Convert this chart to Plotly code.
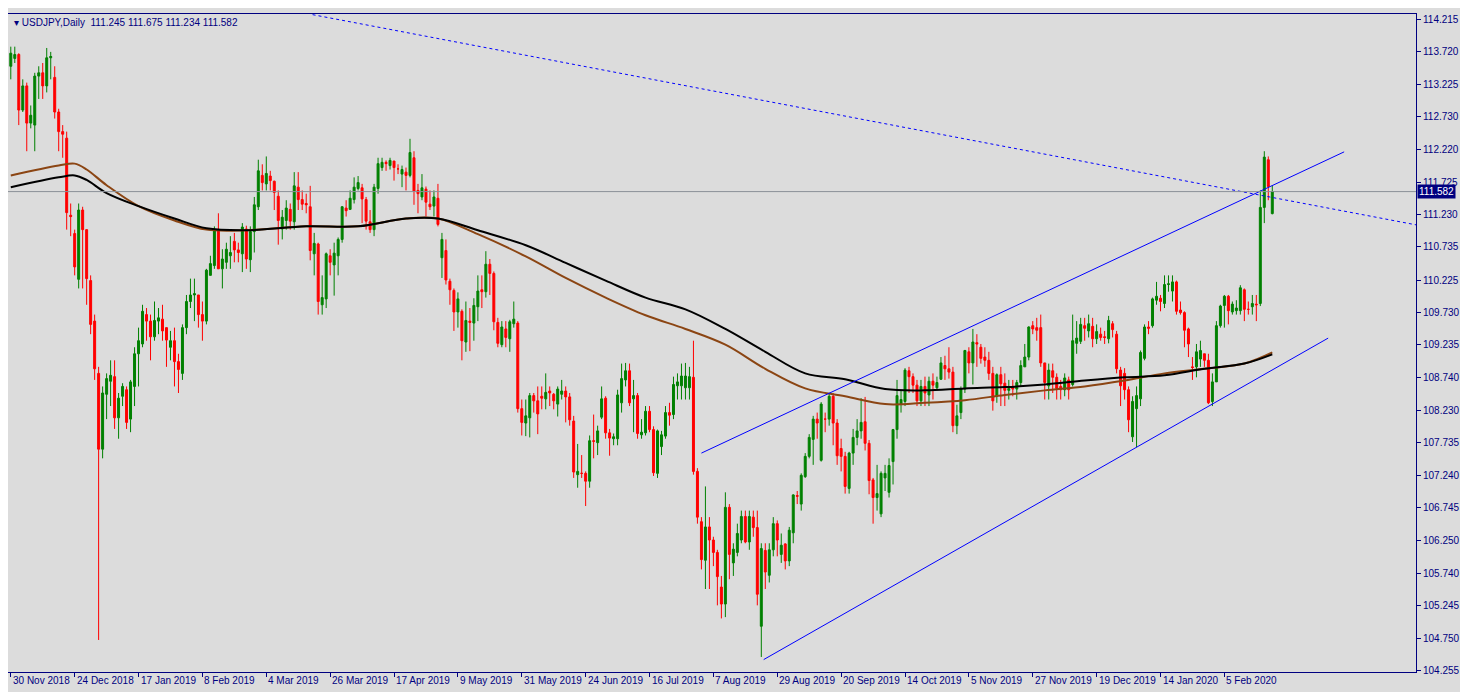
import plotly.graph_objects as go

# USDJPY daily candles (oldest first)
opens = [113.50, 113.62, 113.68, 112.83, 113.20, 112.63, 112.60, 113.35, 113.40, 113.20,
         113.63, 113.33, 112.80, 112.50, 112.40, 111.22, 110.94, 110.24, 111.30, 111.00,
         110.22, 109.60, 108.80, 107.64, 108.48, 108.68, 108.75, 108.12, 108.45, 108.55,
         108.10, 108.60, 109.10, 109.25, 109.70, 109.60, 109.36, 109.60, 109.63, 109.50,
         109.20, 109.30, 108.98, 108.80, 109.50, 109.90, 110.00, 110.00, 109.70, 109.60,
         110.30, 110.45, 111.00, 110.40, 110.50, 110.60, 110.82, 110.69, 110.63, 111.01,
         110.54, 110.97, 111.35, 111.83, 111.70, 111.82, 111.74, 111.51, 111.01, 111.14,
         111.31, 111.12, 111.65, 111.46, 111.40, 111.35, 110.63, 110.78, 109.85, 109.94,
         110.60, 110.46, 110.60, 110.85, 111.33, 111.31, 111.46, 111.63, 111.64, 111.46,
         111.12, 111.00, 111.63, 111.95, 112.03, 111.98, 112.05, 111.93, 111.85, 111.88,
         111.83, 112.10, 111.60, 111.50, 111.62, 111.39, 111.36, 111.48, 110.57, 110.68,
         110.21, 110.07, 109.74, 109.75, 109.28, 109.60, 109.57, 109.82, 110.08, 110.05,
         110.47, 110.33, 109.58, 109.24, 109.48, 109.33, 109.56, 109.57, 108.26, 108.04,
         108.12, 108.46, 108.38, 108.45, 108.41, 108.53, 108.48, 108.33, 108.48, 108.53,
         108.44, 108.07, 107.25, 107.27, 107.27, 107.15, 107.77, 107.74, 108.13, 108.42,
         107.89, 107.80, 107.80, 108.35, 108.70, 108.84, 108.41, 108.46, 107.86, 107.89,
         108.22, 107.94, 107.27, 107.68, 107.84, 108.20, 108.17, 108.61, 108.61, 108.58,
         108.58, 108.74, 107.30, 106.53, 105.94, 106.45, 106.25, 106.06, 105.53, 105.27,
         106.75, 105.90, 106.06, 106.25, 106.61, 106.22, 106.60, 106.44, 104.93, 106.09,
         105.71, 106.10, 106.50, 106.03, 106.19, 105.93, 106.36, 106.93, 106.80, 107.22,
         107.53, 107.79, 108.10, 107.47, 108.10, 108.10, 108.45, 108.04, 107.65, 107.53,
         107.04, 107.58, 107.82, 107.92, 108.06, 107.73, 107.17, 106.90, 106.65, 107.20,
         106.98, 107.45, 107.94, 108.33, 108.37, 108.84, 108.75, 108.62, 108.38, 108.60,
         108.47, 108.68, 108.58, 108.71, 108.92, 108.87, 108.82, 108.00, 108.20, 108.56,
         109.13, 108.96, 109.27, 109.20, 109.05, 109.00, 108.80, 108.45, 108.78, 108.65,
         108.54, 108.60, 108.56, 108.66, 108.90, 109.05, 109.53, 109.50, 109.50, 108.96,
         108.61, 108.84, 108.74, 108.60, 108.55, 108.70, 108.63, 109.26, 109.29, 109.53,
         109.45, 109.52, 109.33, 109.40, 109.36, 109.33, 109.56, 109.40, 108.85, 108.80,
         108.55, 107.83, 108.26, 108.41, 109.03, 109.51, 109.53, 109.92, 109.95, 109.87,
         110.16, 110.06, 110.20, 109.77, 109.73, 109.48, 108.90, 108.90, 109.02, 109.10,
         109.00, 108.37, 108.67, 109.53, 109.84, 109.98, 109.74, 109.76, 109.76, 110.08,
         109.78, 109.82, 109.86, 109.87, 111.34, 112.07, 111.245]
highs = [113.80, 113.80, 113.70, 113.30, 113.25, 112.90, 113.40, 113.50, 113.55, 113.78,
         113.72, 113.50, 112.85, 112.60, 112.50, 111.40, 111.00, 111.40, 111.35, 111.00,
         110.30, 109.70, 108.90, 108.60, 108.80, 109.00, 109.00, 108.50, 108.65, 108.60,
         108.70, 109.20, 109.50, 109.85, 109.80, 109.70, 109.90, 109.80, 109.85, 109.50,
         109.45, 109.50, 109.10, 109.55, 110.00, 110.25, 110.25, 110.00, 109.90, 110.40,
         110.60, 111.05, 111.25, 110.70, 110.80, 110.90, 110.95, 110.80, 111.10, 111.06,
         111.05, 111.50, 112.07, 112.00, 112.12, 111.90, 111.75, 111.60, 111.30, 111.45,
         111.40, 111.88, 111.88, 111.60, 111.55, 111.67, 110.95, 110.80, 110.30, 110.65,
         110.70, 110.80, 110.88, 111.36, 111.45, 111.60, 111.80, 111.82, 111.70, 111.50,
         111.30, 111.70, 112.10, 112.10, 112.06, 112.10, 112.05, 112.00, 111.98, 111.95,
         112.39, 112.20, 111.70, 111.85, 111.66, 111.60, 111.60, 111.70, 110.95, 110.85,
         110.25, 110.10, 110.04, 109.78, 109.90, 109.80, 109.95, 110.30, 110.30, 110.67,
         110.55, 110.36, 109.65, 109.60, 109.60, 109.62, 109.90, 109.60, 108.40, 108.40,
         108.50, 108.50, 108.60, 108.60, 108.80, 108.60, 108.50, 108.60, 108.70, 108.60,
         108.50, 108.15, 107.72, 107.55, 107.30, 107.85, 108.17, 108.00, 108.60, 108.45,
         107.95, 107.88, 108.55, 108.95, 108.96, 108.95, 108.70, 108.50, 108.10, 108.30,
         108.30, 107.99, 107.94, 107.92, 108.30, 108.35, 108.75, 108.80, 108.95, 108.96,
         108.90, 109.30, 107.35, 106.60, 107.07, 106.60, 106.30, 106.10, 105.70, 106.98,
         106.80, 106.20, 106.50, 106.70, 106.70, 106.70, 106.70, 106.70, 106.20, 106.20,
         106.20, 106.60, 106.55, 106.35, 106.20, 106.45, 106.95, 107.00, 107.27, 107.58,
         107.87, 108.15, 108.20, 108.36, 108.20, 108.50, 108.50, 108.10, 107.80, 107.60,
         107.60, 107.95, 108.10, 108.42, 108.44, 107.78, 107.20, 107.40, 107.30, 107.40,
         107.50, 107.95, 108.70, 108.55, 108.88, 108.90, 108.80, 108.70, 108.70, 108.75,
         108.75, 108.80, 108.75, 109.05, 109.07, 109.20, 108.90, 108.32, 108.60, 109.16,
         109.20, 109.48, 109.40, 109.25, 109.20, 109.13, 108.90, 108.80, 108.90, 108.80,
         108.70, 108.70, 108.70, 109.00, 109.25, 109.52, 109.60, 109.65, 109.70, 108.96,
         108.95, 108.95, 108.80, 108.70, 108.80, 108.75, 109.70, 109.60, 109.65, 109.65,
         109.70, 109.65, 109.55, 109.50, 109.45, 109.68, 109.60, 109.45, 108.90, 108.88,
         108.60, 108.45, 108.60, 109.15, 109.55, 109.60, 109.96, 110.20, 110.00, 110.30,
         110.30, 110.30, 110.22, 109.90, 109.75, 109.50, 109.05, 109.25, 109.30, 109.10,
         109.10, 108.80, 109.60, 109.85, 110.00, 110.00, 109.90, 109.92, 110.15, 110.10,
         109.90, 110.00, 110.00, 111.60, 112.20, 112.12, 111.675]
lows = [113.30, 113.55, 112.60, 112.80, 112.20, 112.55, 112.20, 113.00, 113.00, 113.10,
        113.30, 112.70, 112.20, 112.10, 111.00, 110.90, 110.30, 110.10, 110.10, 109.85,
        109.40, 108.70, 104.72, 107.50, 108.10, 108.30, 107.95, 107.80, 108.30, 107.95,
        107.90, 108.30, 108.60, 109.20, 109.30, 109.00, 109.30, 109.40, 109.30, 108.90,
        109.00, 108.60, 108.50, 108.70, 109.40, 109.80, 109.60, 109.50, 109.30, 109.55,
        110.30, 110.40, 110.40, 110.10, 110.40, 110.40, 110.50, 110.50, 110.35, 110.40,
        110.35, 110.65, 111.30, 111.60, 111.60, 111.60, 111.30, 110.77, 110.85, 111.00,
        111.00, 111.00, 111.30, 111.30, 111.25, 110.53, 110.30, 109.70, 109.70, 109.80,
        110.30, 109.99, 110.30, 110.80, 111.20, 111.30, 111.40, 111.60, 111.10, 111.00,
        110.95, 110.90, 111.55, 111.90, 111.90, 111.92, 111.75, 111.85, 111.65, 111.60,
        111.80, 111.38, 111.25, 111.45, 111.20, 111.30, 111.20, 111.05, 110.26, 110.16,
        109.85, 109.45, 109.50, 109.00, 109.13, 109.14, 109.30, 109.60, 109.80, 109.96,
        110.00, 109.46, 109.20, 109.20, 109.20, 109.13, 109.50, 108.20, 107.85, 107.84,
        107.82, 108.20, 107.87, 108.25, 108.25, 108.30, 108.25, 108.14, 108.40, 108.05,
        108.00, 107.20, 107.05, 107.20, 106.77, 107.05, 107.50, 107.55, 108.10, 107.80,
        107.54, 107.70, 107.70, 108.20, 108.60, 108.30, 107.90, 107.80, 107.80, 107.85,
        107.90, 107.23, 107.20, 107.55, 107.80, 108.00, 108.10, 108.40, 108.40, 108.40,
        108.40, 107.25, 106.50, 105.80, 105.50, 105.50, 105.85, 105.25, 105.05, 105.07,
        105.65, 105.70, 106.00, 106.20, 106.20, 106.10, 106.30, 105.25, 104.46, 105.50,
        105.60, 106.00, 106.00, 105.90, 105.80, 105.85, 106.20, 106.80, 106.70, 107.20,
        107.50, 107.40, 107.80, 107.45, 107.90, 108.00, 107.70, 107.40, 107.30, 106.96,
        106.96, 107.40, 107.70, 107.80, 107.62, 106.95, 106.50, 106.70, 106.60, 107.00,
        106.90, 107.10, 107.80, 108.20, 108.30, 108.50, 108.50, 108.30, 108.30, 108.30,
        108.30, 108.40, 108.55, 108.70, 108.70, 108.72, 107.90, 107.87, 108.10, 108.50,
        108.80, 108.63, 108.90, 108.95, 108.90, 108.70, 108.23, 108.35, 108.30, 108.30,
        108.40, 108.45, 108.40, 108.60, 108.90, 109.00, 109.40, 109.30, 108.90, 108.40,
        108.40, 108.50, 108.40, 108.40, 108.45, 108.40, 108.60, 109.10, 109.25, 109.30,
        109.35, 109.20, 109.25, 109.30, 109.25, 109.26, 109.35, 108.80, 108.30, 108.40,
        107.90, 107.75, 107.67, 108.30, 109.00, 109.40, 109.50, 109.85, 109.75, 109.80,
        110.05, 109.90, 109.70, 109.70, 109.20, 109.05, 108.70, 108.74, 108.90, 108.90,
        108.33, 108.30, 108.90, 109.50, 109.50, 109.55, 109.70, 109.70, 109.70, 109.60,
        109.70, 109.70, 109.60, 109.83, 111.10, 111.45, 111.234]
closes = [113.70, 113.68, 112.83, 113.20, 112.63, 112.75, 113.35, 113.40, 113.20, 113.63,
          113.65, 112.80, 112.50, 112.46, 111.26, 111.20, 110.43, 111.30, 111.00, 110.25,
          109.55, 108.87, 107.64, 108.50, 108.72, 108.77, 108.12, 108.42, 108.60, 108.05,
          108.67, 109.10, 109.30, 109.75, 109.60, 109.36, 109.61, 109.65, 109.45, 109.31,
          109.30, 108.98, 108.86, 109.50, 109.90, 110.00, 110.02, 109.70, 109.60, 110.38,
          110.48, 111.00, 110.40, 110.55, 110.70, 110.65, 110.69, 110.65, 111.04, 110.55,
          110.97, 111.38, 111.90, 111.72, 111.86, 111.75, 111.57, 111.14, 111.19, 111.33,
          111.13, 111.67, 111.46, 111.39, 111.38, 110.68, 110.79, 109.90, 109.96, 110.63,
          110.50, 110.64, 110.85, 111.35, 111.29, 111.48, 111.65, 111.72, 111.47, 111.13,
          111.00, 111.65, 112.01, 112.03, 112.01, 112.06, 111.95, 111.93, 111.92, 111.83,
          112.18, 111.59, 111.55, 111.64, 111.42, 111.35, 111.50, 111.08, 110.85, 110.23,
          110.08, 109.74, 109.94, 109.30, 109.61, 109.58, 109.84, 110.06, 110.05, 110.47,
          110.33, 109.59, 109.26, 109.51, 109.35, 109.59, 109.63, 108.26, 108.05, 108.15,
          108.46, 108.38, 108.18, 108.42, 108.51, 108.50, 108.38, 108.56, 108.53, 108.44,
          108.09, 107.29, 107.30, 107.27, 107.15, 107.77, 107.76, 107.92, 108.41, 107.89,
          107.81, 107.83, 108.47, 108.72, 108.84, 108.35, 108.46, 107.88, 107.90, 108.22,
          107.94, 107.28, 107.92, 107.86, 108.20, 108.16, 108.63, 108.67, 108.76, 108.76,
          108.75, 107.30, 106.60, 105.95, 106.45, 106.25, 106.06, 105.69, 105.27, 106.75,
          106.03, 106.11, 106.35, 106.61, 106.22, 106.61, 106.44, 105.42, 106.12, 105.76,
          106.10, 106.50, 106.25, 106.17, 105.93, 106.40, 106.94, 106.92, 107.24, 107.53,
          107.82, 108.10, 108.04, 108.33, 108.10, 108.45, 108.04, 107.54, 107.53, 107.07,
          107.58, 107.82, 107.92, 108.05, 107.73, 107.16, 106.90, 106.96, 107.27, 107.27,
          107.39, 107.94, 108.46, 108.40, 108.85, 108.75, 108.62, 108.38, 108.60, 108.50,
          108.68, 108.62, 108.66, 108.96, 108.87, 108.82, 108.00, 108.15, 108.56, 109.15,
          108.96, 109.28, 109.25, 109.03, 109.00, 108.80, 108.38, 108.78, 108.64, 108.54,
          108.57, 108.56, 108.66, 108.92, 109.05, 109.51, 109.48, 109.46, 108.96, 108.66,
          108.85, 108.74, 108.57, 108.55, 108.73, 108.55, 109.30, 109.34, 109.55, 109.49,
          109.56, 109.33, 109.44, 109.35, 109.35, 109.61, 109.47, 108.87, 108.61, 108.55,
          108.09, 108.37, 108.46, 109.12, 109.51, 109.49, 109.94, 109.98, 109.90, 110.16,
          110.17, 110.20, 109.75, 109.73, 109.46, 109.25, 108.89, 109.13, 109.15, 109.00,
          108.35, 108.67, 109.53, 109.83, 109.98, 109.76, 109.86, 109.80, 110.11, 109.78,
          109.78, 109.87, 109.85, 111.34, 112.11, 111.66, 111.582]

# moving averages, sampled along the chart
ma_idx = [0, 12, 16, 19, 24, 32, 41, 49, 59, 74, 87, 99, 107, 117, 129, 139, 149, 159,
          169, 179, 189, 199, 209, 219, 229, 239, 249, 259, 269, 279, 289, 299, 309, 316]
ma_black = [111.65, 111.80, 111.83, 111.76, 111.56, 111.36, 111.17, 111.02, 110.99, 111.05,
            111.05, 111.17, 111.17, 110.99, 110.76, 110.49, 110.22, 109.96, 109.78, 109.48,
            109.13, 108.80, 108.71, 108.56, 108.54, 108.57, 108.59, 108.63, 108.69, 108.74,
            108.77, 108.87, 108.95, 109.09]
ma_brown = [111.83, 111.98, 112.01, 111.92, 111.68, 111.36, 111.14, 111.00, 110.99, 111.05,
            111.05, 111.17, 111.17, 110.93, 110.59, 110.26, 109.96, 109.69, 109.48, 109.24,
            108.87, 108.57, 108.45, 108.33, 108.35, 108.39, 108.47, 108.54, 108.60, 108.69,
            108.80, 108.87, 108.95, 109.12]

# trend lines (bar index, price)
upper_x, upper_y = [173, 334], [107.58, 112.19]
lower_x, lower_y = [188.6, 330], [104.42, 109.34]
dotted_x, dotted_y = [75.6, 354], [114.29, 111.05]

last_price = 111.582
price_ticks = [114.215, 113.720, 113.225, 112.730, 112.220, 111.725, 111.230, 110.735,
               110.225, 109.730, 109.235, 108.740, 108.230, 107.735, 107.240, 106.745,
               106.250, 105.740, 105.245, 104.750, 104.255]
date_labels = ["30 Nov 2018", "24 Dec 2018", "17 Jan 2019", "8 Feb 2019", "4 Mar 2019",
               "26 Mar 2019", "17 Apr 2019", "9 May 2019", "31 May 2019", "24 Jun 2019",
               "16 Jul 2019", "7 Aug 2019", "29 Aug 2019", "20 Sep 2019", "14 Oct 2019",
               "5 Nov 2019", "27 Nov 2019", "19 Dec 2019", "14 Jan 2020", "5 Feb 2020"]
date_idx = [16 * i for i in range(len(date_labels))]

NAVY = "#000080"
BG = "#dcdcdc"
FONT = "Liberation Sans"
FS = 10

x = list(range(len(closes)))
fig = go.Figure()
fig.add_trace(go.Candlestick(
    x=x, open=opens, high=highs, low=lows, close=closes,
    increasing=dict(line=dict(color="#008000", width=1), fillcolor="#008000"),
    decreasing=dict(line=dict(color="#ff0000", width=1), fillcolor="#ff0000"),
    whiskerwidth=0, showlegend=False, hoverinfo="skip"))
fig.add_trace(go.Scatter(x=ma_idx, y=ma_brown, mode="lines", line_shape="spline",
                         line=dict(color="#8b4513", width=2), showlegend=False))
fig.add_trace(go.Scatter(x=ma_idx, y=ma_black, mode="lines", line_shape="spline",
                         line=dict(color="black", width=2), showlegend=False))
fig.add_trace(go.Scatter(x=upper_x, y=upper_y, mode="lines",
                         line=dict(color="#0000ff", width=1), showlegend=False))
fig.add_trace(go.Scatter(x=lower_x, y=lower_y, mode="lines",
                         line=dict(color="#0000ff", width=1), showlegend=False))
fig.add_trace(go.Scatter(x=dotted_x, y=dotted_y, mode="lines",
                         line=dict(color="#0000ff", width=1, dash="dot"), showlegend=False))

fig.add_hline(y=last_price, line=dict(color="#8a9098", width=1))
fig.add_annotation(x=1, xref="paper", y=last_price, yref="y", xanchor="left",
                   text=f"{last_price:.3f}", showarrow=False, bgcolor=NAVY,
                   font=dict(color="white", size=FS, family=FONT), borderpad=1, xshift=1)
fig.add_annotation(x=0, xref="paper", y=1, yref="paper", xanchor="left", yanchor="top",
                   text="▾ USDJPY,Daily  111.245 111.675 111.234 111.582", showarrow=False,
                   font=dict(color=NAVY, size=FS, family=FONT), xshift=4, yshift=-1)
for i, lab in zip(date_idx, date_labels):
    fig.add_annotation(x=i, xref="x", y=0, yref="paper", xanchor="left", yanchor="top",
                       text=lab, showarrow=False, yshift=-1, xshift=0,
                       font=dict(color=NAVY, size=FS, family=FONT))

fig.update_layout(
    width=1460, height=684, paper_bgcolor=BG, plot_bgcolor=BG,
    margin=dict(l=0, r=52, t=6, b=20),
    font=dict(family=FONT, size=FS, color=NAVY),
    xaxis=dict(range=[-0.7, 352], rangeslider=dict(visible=False), showgrid=False,
               zeroline=False, tickvals=date_idx, ticktext=[""] * len(date_idx),
               ticks="outside", ticklen=4, tickcolor=NAVY, showline=True,
               linecolor=NAVY, mirror=True),
    yaxis=dict(range=[104.23, 114.30], side="right", showgrid=False, zeroline=False,
               tickvals=price_ticks, ticktext=[f"{v:.3f}" for v in price_ticks],
               ticks="outside", ticklen=4, tickcolor=NAVY, showline=True,
               linecolor=NAVY, mirror=True),
)

fig.write_html("out.html")
